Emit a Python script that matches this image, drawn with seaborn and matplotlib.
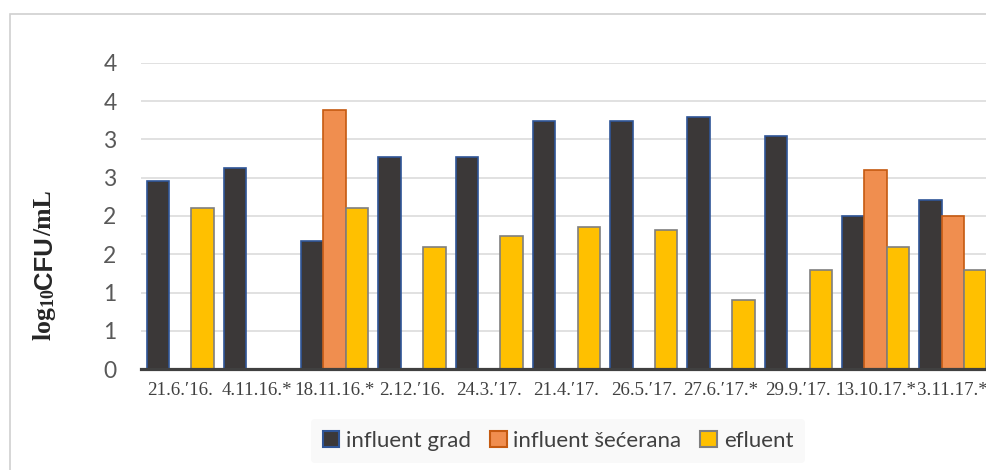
import numpy as np
import pandas as pd
import seaborn as sns
import matplotlib.pyplot as plt
from matplotlib.patches import Patch, Rectangle

sns.set_theme(style="white")
plt.rcParams['font.family'] = ['Lato', 'DejaVu Sans']
plt.rcParams['mathtext.fontset'] = 'custom'
plt.rcParams['mathtext.rm'] = 'Liberation Serif:bold'
plt.rcParams['mathtext.bf'] = 'Liberation Serif:bold'

# data
dates = ['21.6.′16.', '4.11.16.*', '18.11.16.*', '2.12.′16.', '24.3.′17.', '21.4.′17.',
         '26.5.′17.', '27.6.′17.*', '29.9.′17.', '13.10.17.*', '3.11.17.*']
series = ['influent grad', 'influent šećerana', 'efluent']
grad = [2.46, 2.63, 1.68, 2.77, 2.77, 3.24, 3.24, 3.29, 3.05, 2.00, 2.21]
secerana = [np.nan, np.nan, 3.38, np.nan, np.nan, np.nan, np.nan, np.nan, np.nan, 2.60, 2.00]
efluent = [2.10, np.nan, 2.10, 1.60, 1.74, 1.85, 1.82, 0.90, 1.29, 1.60, 1.29]
y_ticks = [0, 0.5, 1.0, 1.5, 2.0, 2.5, 3.0, 3.5, 4.0]
y_labels = ['0', '1', '1', '2', '2', '3', '3', '4', '4']

fill = ['#3b3838', '#f08e4f', '#ffc000']
edge = ['#2f5597', '#c55a11', '#7f7f7f']

df = pd.DataFrame({
    'date': dates * 3,
    'series': [series[0]] * 11 + [series[1]] * 11 + [series[2]] * 11,
    'value': grad + secerana + efluent,
})

fig = plt.figure(figsize=(9.87, 4.70), dpi=100)
ax = fig.add_axes([141.5 / 987, 100.7 / 470, 850 / 987, 306.6 / 470])

sns.barplot(data=df, x='date', y='value', hue='series', hue_order=series,
            order=dates, palette=fill, width=0.87, saturation=1,
            legend=False, ax=ax)
for cont, ec in zip(ax.containers, edge):
    for bar in cont:
        bar.set_edgecolor(ec)
        bar.set_linewidth(1.2)

ax.set_xlim(-0.5, 10.5)
ax.set_ylim(0, 4)
ax.set_yticks(y_ticks)
ax.set_yticklabels(y_labels, fontsize=16.5, color='#595959')
ax.tick_params(axis='y', length=0, pad=18)
ax.tick_params(axis='x', length=0, pad=9)
for lab in ax.get_xticklabels():
    lab.set_fontfamily('Liberation Serif')
    lab.set_fontsize(13.6)
    lab.set_color('#404040')
ax.grid(axis='y', color='#d9d9d9', linewidth=1.1)
ax.set_axisbelow(True)
for s in ['left', 'top', 'right']:
    ax.spines[s].set_visible(False)
ax.spines['bottom'].set_color('#404040')
ax.spines['bottom'].set_linewidth(2.3)
ax.set_xlabel('')
ax.set_ylabel('')

# y label in three pieces: serif "log10", sans "CFU", serif "/mL"
renderer = fig.canvas.get_renderer()
y_px = 341
pieces = [(r'$\mathbf{log_{10}}$', 'Liberation Serif'),
          ('CFU', 'Liberation Sans'),
          ('/mL', 'Liberation Serif')]
for txt, fam in pieces:
    t = fig.text(45 / 987, 1 - y_px / 470, txt, rotation=90, ha='center', va='bottom',
                 fontsize=18.5, fontweight='bold', family=fam, color='#262626')
    y_px -= t.get_window_extent(renderer).height

handles = [Patch(facecolor=f, edgecolor=e, linewidth=1.5, label=s)
           for f, e, s in zip(fill, edge, series)]
leg = fig.legend(handles=handles, loc='center', bbox_to_anchor=(558 / 987, 1 - 441 / 470),
                 ncol=3, frameon=True, fontsize=16, handlelength=0.75, handleheight=0.75,
                 handletextpad=0.3, columnspacing=0.85, borderpad=0.55)
leg.get_frame().set_facecolor('#f8f8f8')
leg.get_frame().set_edgecolor('none')
for t in leg.get_texts():
    t.set_color('#404040')

fig.patches.append(Rectangle((10 / 987, -0.1), 1.2, 1 - 14 / 470 + 0.1,
                             transform=fig.transFigure, fill=False,
                             edgecolor='#d0d0d0', linewidth=1.2, zorder=0))

fig.savefig('out.png', dpi=100)
